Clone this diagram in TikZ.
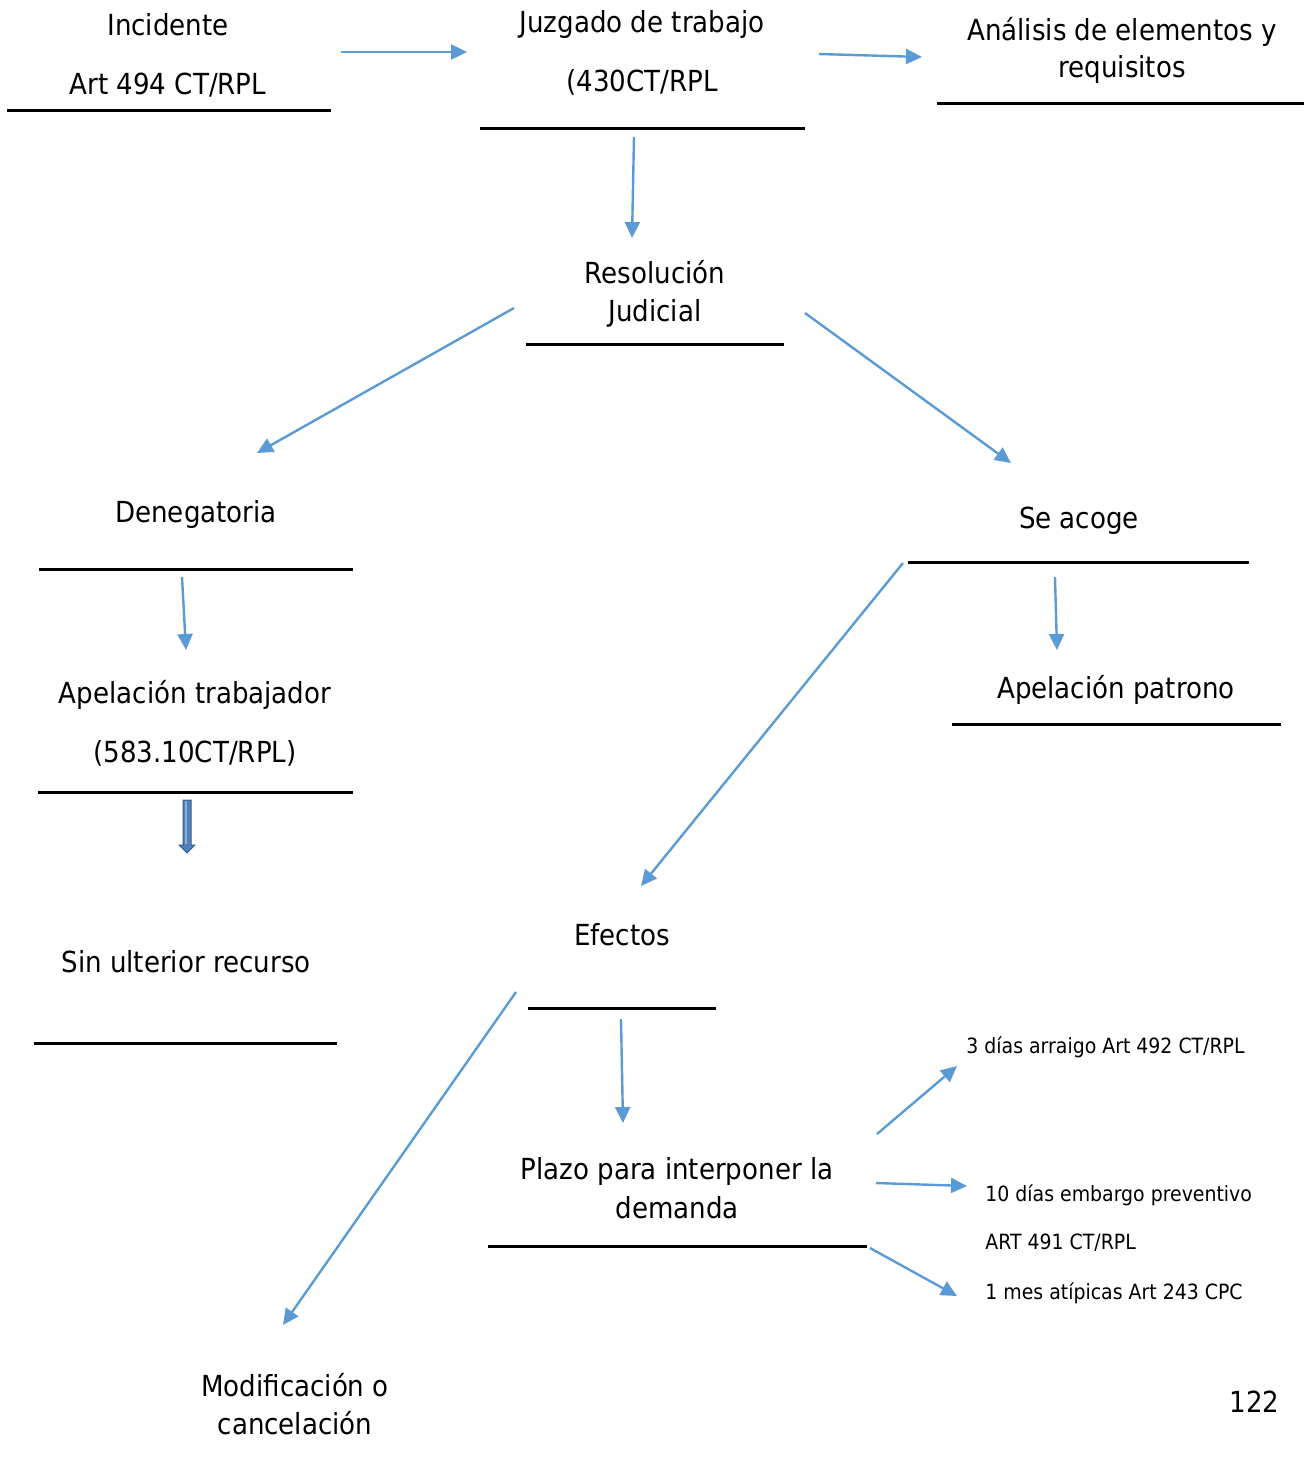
\documentclass[tikz,border=0pt]{standalone}
\usepackage{fontspec}
\setmainfont{DejaVu Sans}[FakeStretch=0.9]
\usetikzlibrary{arrows.meta}
\definecolor{arrblue}{HTML}{5B9BD5}
\definecolor{blkfill}{HTML}{4F81BD}
\definecolor{blkdraw}{HTML}{385D8A}
\tikzset{
  lbl/.style={anchor=base,inner sep=0pt,font=\fontsize{14.5}{17}\selectfont},
  sml/.style={anchor=base west,inner sep=0pt,font=\fontsize{10.5}{12.5}\selectfont},
  uline/.style={line width=1.5pt,black},
  conn/.style={line width=1.2pt,arrblue,-{Triangle[length=8pt,width=7.5pt]}},
}
\begin{document}
\begin{tikzpicture}[x=0.5pt,y=-0.5pt]
\useasboundingbox (0,0) rectangle (1304,1458);
% texts
\node[lbl] (inc1) at (168,35) {Incidente};
\node[lbl] (inc2) at (168,94) {Art 494 CT/RPL};
\node[lbl] (juz1) at (642,32) {Juzgado de trabajo};
\node[lbl] (juz2) at (642,91) {(430CT/RPL};
\node[lbl] (ana1) at (1122,40) {Análisis de elementos y};
\node[lbl] (ana2) at (1122,77) {requisitos};
\node[lbl] (res1) at (655,283) {Resolución};
\node[lbl] (res2) at (655,321) {Judicial};
\node[lbl] (den) at (196,522) {Denegatoria};
\node[lbl] (acoge) at (1079,528) {Se acoge};
\node[lbl] (apt1) at (195,703) {Apelación trabajador};
\node[lbl] (apt2) at (195,762) {(583.10CT/RPL)};
\node[lbl] (app) at (1116,698) {Apelación patrono};
\node[lbl] (sin) at (186,972) {Sin ulterior recurso};
\node[lbl] (efe) at (622,945) {Efectos};
\node[lbl] (pla1) at (677,1179) {Plazo para interponer la};
\node[lbl] (pla2) at (677,1218) {demanda};
\node[lbl] (mod1) at (295,1396) {Modificación o};
\node[lbl] (mod2) at (295,1434) {cancelación};
\node[sml] (d3) at (966,1053) {3 días arraigo Art 492 CT/RPL};
\node[sml] (d10) at (985,1201) {10 días embargo preventivo};
\node[sml] (art491) at (985,1249) {ART 491 CT/RPL};
\node[sml] (mes) at (985,1299) {1 mes atípicas Art 243 CPC};
\node[lbl,anchor=base east] (pg) at (1280,1412) {122};
% underlines
\draw[uline] (7,110) -- (331,110);
\draw[uline] (480,128) -- (805,128);
\draw[uline] (937,103) -- (1304,103);
\draw[uline] (526,344) -- (784,344);
\draw[uline] (39,569) -- (353,569);
\draw[uline] (908,562) -- (1249,562);
\draw[uline] (38,792) -- (353,792);
\draw[uline] (952,724) -- (1281,724);
\draw[uline] (34,1043) -- (337,1043);
\draw[uline] (528,1008) -- (716,1008);
\draw[uline] (488,1246) -- (867,1246);
% connector end points
\coordinate (a1s) at (341,52);   \coordinate (a1e) at (467,52);
\coordinate (a2s) at (819,54);   \coordinate (a2e) at (922,57);
\coordinate (a3s) at (634,137);  \coordinate (a3e) at (632,238);
\coordinate (a4s) at (514,308);  \coordinate (a4e) at (257,453);
\coordinate (a5s) at (805,313);  \coordinate (a5e) at (1011,463);
\coordinate (a6s) at (182,577);  \coordinate (a6e) at (186,650);
\coordinate (a7s) at (1055,577); \coordinate (a7e) at (1057,650);
\coordinate (a8s) at (903,563);  \coordinate (a8e) at (641,886);
\coordinate (a9s) at (516,992);  \coordinate (a9e) at (283,1325);
\coordinate (a10s) at (621,1019); \coordinate (a10e) at (623,1123);
\coordinate (a11s) at (877,1134); \coordinate (a11e) at (957,1066);
\coordinate (a12s) at (876,1183); \coordinate (a12e) at (967,1186);
\coordinate (a13s) at (870,1248); \coordinate (a13e) at (957,1296);
\foreach \i in {1,...,13}{\draw[conn] (a\i s) -- (a\i e);}
% block arrow
\draw[blkdraw,fill=blkfill,line width=0.5pt]
  (183,800) -- (191,800) -- (191,845) -- (195,845) -- (187,853) -- (179,845) -- (183,845) -- cycle;
\fill[white,opacity=0.35] (185,801) rectangle (187,844);
\end{tikzpicture}
\end{document}
